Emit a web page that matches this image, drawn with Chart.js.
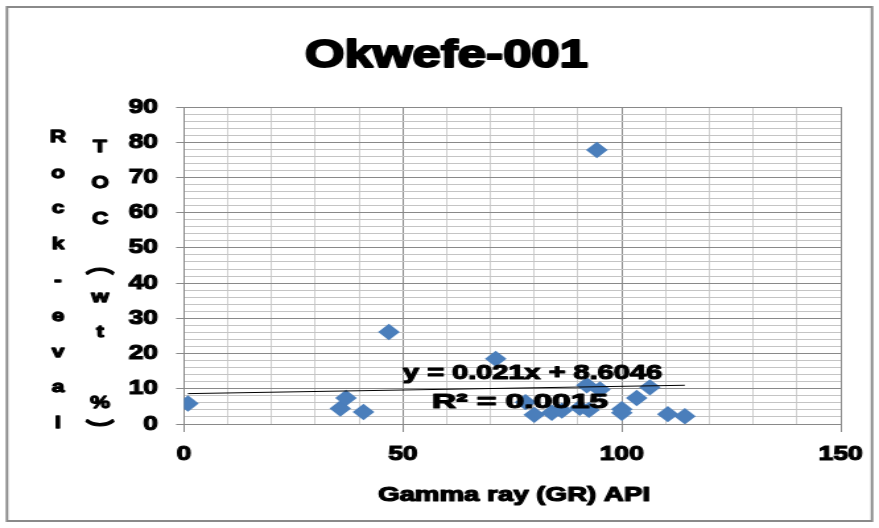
<!DOCTYPE html>
<html><head><meta charset="utf-8">
<script src="https://cdn.jsdelivr.net/npm/chart.js@4/dist/chart.umd.min.js"></script>
<style>
html,body{margin:0;padding:0;background:#fff;overflow:hidden;}
#wrap{width:666px;height:528px;transform:scaleX(1.31982);transform-origin:0 0;}
canvas{display:block;}
</style></head><body>
<div id="wrap"><canvas id="c" width="666" height="528"></canvas></div>
<script>
// ---- data ----
const chartTitle = 'Okwefe-001';
const xTitle = 'Gamma ray (GR) API';
const yTitleCol1 = ['R','o','c','k','-','e','v','a','l'];
const yTitleCol2 = ['T','O','C','(','w','t','%',')'];
const grApi  = [0.9, 35.7, 37, 41, 46.8, 71.2, 78, 80, 84, 86.3, 90.4, 92, 92.5, 94.3, 95, 100, 100, 103.4, 106.4, 110.5, 114.4];
const tocWt  = [5.8, 4.4, 7.4, 3.4, 26.1, 18.5, 6.2, 2.6, 3.2, 3.8, 4.6, 11, 4, 77.8, 9.8, 4.2, 3.2, 7.4, 10.4, 2.8, 2.2];
const trendX = [0.9, 114.4];
const trendY = [8.62, 11.0];
const equationText = 'y = 0.021x + 8.6046';
const r2Text = 'R\u00B2 = 0.0015';
const xTickLabels = [0, 50, 100, 150];
const yTickLabels = [0, 10, 20, 30, 40, 50, 60, 70, 80, 90];

// ---- drawing ----
const S = 879 / 666;
const FONT = '"Liberation Sans", Arial, sans-serif';
const VERT = { '(': '\uFE35', ')': '\uFE36' };

function fitText(ctx, text, leftR, rightR, baseline, font, sw) {
  ctx.font = font; ctx.textAlign = 'left'; ctx.textBaseline = 'alphabetic';
  const w = ctx.measureText(text).width;
  const target = (rightR - leftR) / S;
  ctx.save(); ctx.translate(leftR / S, baseline); ctx.scale(target / w, 1);
  ctx.lineWidth = sw; ctx.lineJoin = 'round';
  ctx.strokeText(text, 0, 0);
  ctx.fillText(text, 0, 0); ctx.restore();
}
function centerChar(ctx, ch, cxR, baseline, font) {
  ctx.font = font; ctx.textAlign = 'center'; ctx.textBaseline = 'alphabetic';
  ctx.lineWidth = 1.3; ctx.lineJoin = 'round';
  ctx.strokeText(ch, cxR / S, baseline);
  ctx.fillText(ch, cxR / S, baseline);
}
// vertical-form bracket, centred on its ink box
function vertChar(ctx, ch, cxR, cy, font) {
  const g = VERT[ch] || ch;
  ctx.save();
  ctx.font = font; ctx.textAlign = 'left'; ctx.textBaseline = 'alphabetic';
  const m = ctx.measureText(g);
  const inkW = m.actualBoundingBoxLeft + m.actualBoundingBoxRight;
  const inkH = m.actualBoundingBoxAscent + m.actualBoundingBoxDescent;
  const x = cxR / S - inkW / 2 + m.actualBoundingBoxLeft;
  const y = cy - inkH / 2 + m.actualBoundingBoxAscent;
  ctx.lineWidth = 1.2; ctx.lineJoin = 'round';
  ctx.strokeText(g, x, y);
  ctx.fillText(g, x, y);
  ctx.restore();
}

const textPlugin = {
  id: 'texts',
  afterDraw(chart) {
    const ctx = chart.ctx;
    ctx.save();
    ctx.strokeStyle = '#8a8a8a'; ctx.lineWidth = 2;
    ctx.strokeRect(7 / S, 7, (872 - 7) / S, 521 - 7);
    ctx.fillStyle = '#000'; ctx.strokeStyle = '#000';
    fitText(ctx, chartTitle, 305, 588, 67, 'bold 38px ' + FONT, 2);
    fitText(ctx, xTitle, 378, 650, 501, 'bold 20px ' + FONT, 1.2);
    fitText(ctx, equationText, 403, 662, 379, 'bold 20px ' + FONT, 1.2);
    fitText(ctx, r2Text, 432, 608, 408, 'bold 20px ' + FONT, 1.2);
    const f = 'bold 17px ' + FONT;
    yTitleCol1.forEach((ch, i) => centerChar(ctx, ch, 58, 141.7 + 35.8 * i, f));
    const col2 = [ ['n',152], ['n',188], ['n',224], ['r',271], ['n',302], ['n',337], ['n',408], ['r',422] ];
    yTitleCol2.forEach((ch, i) => {
      const [kind, y] = col2[i];
      if (kind === 'r') vertChar(ctx, ch, 100, y, 'bold 22px "Noto Sans CJK SC", sans-serif');
      else centerChar(ctx, ch, 100, y, f);
    });
    ctx.restore();
  }
};

const tickFont = { family: FONT, size: 20, weight: 'bold' };
new Chart(document.getElementById('c'), {
  type: 'scatter',
  data: { datasets: [
    { data: trendX.map((x, i) => ({ x, y: trendY[i] })), showLine: true, borderColor: '#000', borderWidth: 1,
      pointRadius: 0, pointHoverRadius: 0, fill: false, order: 0 },
    { data: grApi.map((x, i) => ({ x, y: tocWt[i] })), pointStyle: 'rectRot', pointRadius: 8.2, pointHoverRadius: 8.2,
      backgroundColor: '#4a7ebb', borderColor: '#4a7ebb', borderWidth: 0, order: 1 }
  ]},
  options: {
    responsive: false, animation: false, devicePixelRatio: 1,
    layout: { padding: { top: 107, right: 29, left: 0, bottom: 0 } },
    plugins: { legend: { display: false }, tooltip: { enabled: false }, title: { display: false } },
    scales: {
      x: {
        type: 'linear', min: 0, max: 150,
        ticks: { stepSize: 10, autoSkip: false, maxRotation: 0, color: '#000', font: tickFont, padding: 10,
          textStrokeColor: '#000', textStrokeWidth: 1.2,
          callback: v => xTickLabels.includes(v) ? String(v) : '' },
        grid: { color: c => (c.tick && c.tick.value % 50 === 0) ? '#898989' : '#cfcfcf', lineWidth: 1, tickLength: 8,
          tickColor: c => (c.tick && c.tick.value % 50 === 0) ? '#898989' : 'rgba(0,0,0,0)' },
        border: { color: '#898989', width: 1 },
        afterFit: s => { s.height = 104; }
      },
      y: {
        type: 'linear', min: 0, max: 90,
        ticks: { stepSize: 2, autoSkip: false, color: '#000', font: tickFont, padding: 13.7,
          textStrokeColor: '#000', textStrokeWidth: 1.2,
          callback: v => yTickLabels.includes(v) ? String(v) : '' },
        grid: { color: c => (c.tick && c.tick.value % 10 === 0) ? '#898989' : '#c4c4c4', lineWidth: 1, tickLength: 6,
          tickColor: c => (c.tick && c.tick.value % 10 === 0) ? '#898989' : 'rgba(0,0,0,0)' },
        border: { color: '#898989', width: 1 },
        afterFit: s => { s.width = 139.4; }
      }
    }
  },
  plugins: [textPlugin]
});
</script>
</body></html>
